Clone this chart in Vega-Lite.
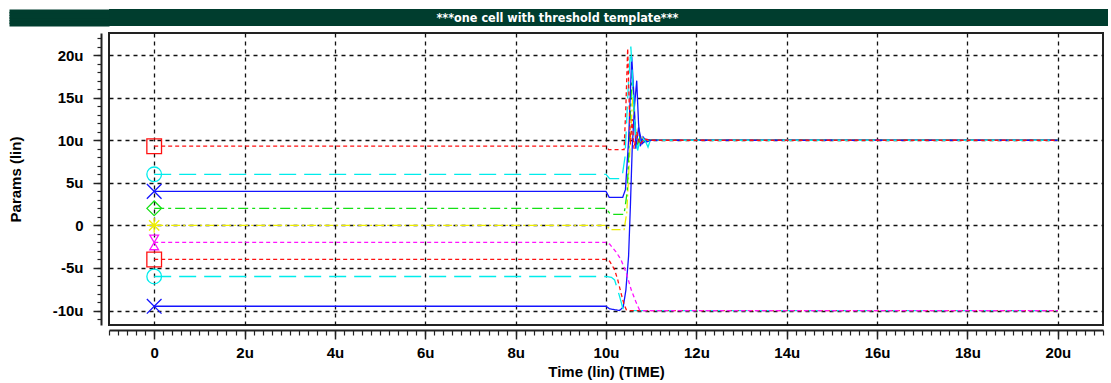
{
  "$schema": "https://vega.github.io/schema/vega-lite/v6.json",
  "background": "white",
  "padding": {"left": 7, "top": 8, "right": 3, "bottom": 0},
  "spacing": 5,
  "config": {"font": "Liberation Sans"},
  "datasets": {
    "traces": [
      {"trace":"s9","t":0,"v":-9.5},{"trace":"s9","t":10,"v":-9.5},{"trace":"s9","t":10.08,"v":-9.8},{"trace":"s9","t":10.3,"v":-10},{"trace":"s9","t":10.38,"v":-9.6},{"trace":"s9","t":10.44,"v":-7.6},{"trace":"s9","t":10.5,"v":-3.6},{"trace":"s9","t":10.54,"v":2.3},{"trace":"s9","t":10.58,"v":9},{"trace":"s9","t":10.63,"v":14},{"trace":"s9","t":10.68,"v":17},{"trace":"s9","t":10.72,"v":12},{"trace":"s9","t":10.76,"v":9.3},{"trace":"s9","t":10.82,"v":10.4},{"trace":"s9","t":10.9,"v":9.8},{"trace":"s9","t":11,"v":10},{"trace":"s9","t":20,"v":10},
      {"trace":"s8","t":0,"v":-6},{"trace":"s8","t":10,"v":-6},{"trace":"s8","t":10.12,"v":-6.1},{"trace":"s8","t":10.19,"v":-6.4},{"trace":"s8","t":10.26,"v":-7.6},{"trace":"s8","t":10.33,"v":-8.9},{"trace":"s8","t":10.37,"v":-9.7},{"trace":"s8","t":10.4,"v":-10},{"trace":"s8","t":20,"v":-10},
      {"trace":"s7","t":0,"v":-4},{"trace":"s7","t":10,"v":-4},{"trace":"s7","t":10.08,"v":-4.2},{"trace":"s7","t":10.19,"v":-5.2},{"trace":"s7","t":10.26,"v":-6.4},{"trace":"s7","t":10.33,"v":-7.9},{"trace":"s7","t":10.4,"v":-9.3},{"trace":"s7","t":10.45,"v":-9.9},{"trace":"s7","t":10.5,"v":-10},{"trace":"s7","t":20,"v":-10},
      {"trace":"s6","t":0,"v":-2},{"trace":"s6","t":10,"v":-2},{"trace":"s6","t":10.08,"v":-2.2},{"trace":"s6","t":10.22,"v":-3.1},{"trace":"s6","t":10.33,"v":-4},{"trace":"s6","t":10.45,"v":-5.6},{"trace":"s6","t":10.56,"v":-7.6},{"trace":"s6","t":10.67,"v":-9.1},{"trace":"s6","t":10.74,"v":-9.9},{"trace":"s6","t":10.8,"v":-10},{"trace":"s6","t":20,"v":-10},
      {"trace":"s5","t":0,"v":0},{"trace":"s5","t":10,"v":0},{"trace":"s5","t":10.1,"v":-0.5},{"trace":"s5","t":10.4,"v":-0.5},{"trace":"s5","t":10.46,"v":1.5},{"trace":"s5","t":10.53,"v":9},{"trace":"s5","t":10.59,"v":15},{"trace":"s5","t":10.64,"v":12},{"trace":"s5","t":10.7,"v":9.5},{"trace":"s5","t":10.8,"v":10.3},{"trace":"s5","t":10.92,"v":10},{"trace":"s5","t":20,"v":10},
      {"trace":"s4","t":0,"v":2},{"trace":"s4","t":10,"v":2},{"trace":"s4","t":10.1,"v":1.3},{"trace":"s4","t":10.4,"v":1.3},{"trace":"s4","t":10.47,"v":4},{"trace":"s4","t":10.53,"v":12},{"trace":"s4","t":10.58,"v":18},{"trace":"s4","t":10.63,"v":13},{"trace":"s4","t":10.68,"v":9.2},{"trace":"s4","t":10.76,"v":10.5},{"trace":"s4","t":10.86,"v":9.8},{"trace":"s4","t":10.95,"v":10},{"trace":"s4","t":20,"v":10},
      {"trace":"s3","t":0,"v":4},{"trace":"s3","t":10,"v":4},{"trace":"s3","t":10.07,"v":3.3},{"trace":"s3","t":10.37,"v":3.3},{"trace":"s3","t":10.43,"v":4.2},{"trace":"s3","t":10.5,"v":10},{"trace":"s3","t":10.57,"v":19.8},{"trace":"s3","t":10.62,"v":15},{"trace":"s3","t":10.66,"v":9},{"trace":"s3","t":10.72,"v":11.5},{"trace":"s3","t":10.8,"v":9.6},{"trace":"s3","t":10.9,"v":10.1},{"trace":"s3","t":11,"v":10},{"trace":"s3","t":20,"v":10},
      {"trace":"s2","t":0,"v":6},{"trace":"s2","t":10,"v":6},{"trace":"s2","t":10.08,"v":5.5},{"trace":"s2","t":10.35,"v":5.5},{"trace":"s2","t":10.42,"v":8},{"trace":"s2","t":10.49,"v":16},{"trace":"s2","t":10.55,"v":21},{"trace":"s2","t":10.6,"v":16},{"trace":"s2","t":10.65,"v":11},{"trace":"s2","t":10.7,"v":8.8},{"trace":"s2","t":10.78,"v":10.6},{"trace":"s2","t":10.88,"v":9.8},{"trace":"s2","t":10.93,"v":9.2},{"trace":"s2","t":10.98,"v":10},{"trace":"s2","t":20,"v":10},
      {"trace":"s1","t":0,"v":9.3},{"trace":"s1","t":10,"v":9.3},{"trace":"s1","t":10.06,"v":8.9},{"trace":"s1","t":10.4,"v":8.9},{"trace":"s1","t":10.44,"v":14},{"trace":"s1","t":10.48,"v":20.8},{"trace":"s1","t":10.51,"v":15},{"trace":"s1","t":10.54,"v":9.5},{"trace":"s1","t":10.58,"v":12.5},{"trace":"s1","t":10.62,"v":9},{"trace":"s1","t":10.68,"v":11},{"trace":"s1","t":10.75,"v":9.5},{"trace":"s1","t":10.85,"v":10.2},{"trace":"s1","t":10.95,"v":10},{"trace":"s1","t":20,"v":10}
    ]
  },
  "vconcat": [
    {
      "width": 999,
      "height": 17,
      "view": {"fill": "#003d2e", "stroke": null},
      "data": {"values": [{"label": "***one cell with threshold template***", "pos": 0}]},
      "mark": {"type": "text", "color": "white", "font": "'DejaVu Sans Condensed', 'DejaVu Sans'", "fontWeight": "bold", "fontSize": 12.5, "align": "center", "baseline": "middle", "dx": -51},
      "encoding": {
        "text": {"field": "label"},
        "y": {
          "field": "pos", "type": "quantitative",
          "scale": {"domain": [-1, 1], "nice": false},
          "axis": {"values": [-0.765, -0.459, -0.153, 0.153, 0.459, 0.765], "tickSize": 100, "tickWidth": 4, "tickColor": "#003d2e", "tickCap": "butt", "tickRound": false, "labels": false, "domain": false, "grid": false, "title": null, "offset": 0}
        }
      }
    },
    {
      "width": 994,
      "height": 292,
      "view": {"stroke": "#222", "strokeWidth": 2},
      "data": {"name": "traces"},
      "resolve": {"axis": {"x": "independent", "y": "independent"}},
      "layer": [
        {
          "mark": {"type": "line", "strokeWidth": 1.3},
          "encoding": {
            "x": {
              "field": "t", "type": "quantitative",
              "scale": {"domain": [-1, 21], "nice": false, "zero": false},
              "axis": {
                "orient": "bottom", "offset": 5, "title": "Time (lin) (TIME)",
                "values": [0, 2, 4, 6, 8, 10, 12, 14, 16, 18, 20],
                "labelExpr": "datum.value == 0 ? '0' : datum.value + 'u'",
                "grid": true, "gridColor": "#111", "gridOpacity": 1, "gridDash": [4, 4], "gridWidth": 1.3,
                "domain": true, "domainColor": "#222", "domainWidth": 2,
                "tickColor": "#222", "tickSize": 9, "tickWidth": 1.5,
                "labelFont": "Liberation Sans", "labelFontWeight": "bold", "labelFontSize": 15, "labelColor": "black", "labelPadding": 6,
                "titleFont": "Liberation Sans", "titleFontWeight": "bold", "titleFontSize": 15, "titleColor": "black", "titlePadding": 4
              }
            },
            "y": {
              "field": "v", "type": "quantitative",
              "scale": {"domain": [-11.7, 22.6], "nice": false, "zero": false},
              "axis": {
                "orient": "left", "offset": 8, "title": "Params (lin)",
                "values": [-10, -5, 0, 5, 10, 15, 20],
                "labelExpr": "datum.value == 0 ? '0' : datum.value + 'u'",
                "grid": true, "gridColor": "#111", "gridOpacity": 1, "gridDash": [4, 4], "gridWidth": 1.3,
                "domain": true, "domainColor": "#222", "domainWidth": 2,
                "tickColor": "#222", "tickSize": 8, "tickWidth": 1.5,
                "labelFont": "Liberation Sans", "labelFontWeight": "bold", "labelFontSize": 15, "labelColor": "black", "labelPadding": 10,
                "titleFont": "Liberation Sans", "titleFontWeight": "bold", "titleFontSize": 15, "titleColor": "black", "titlePadding": 29
              }
            },
            "detail": {"field": "trace"},
            "color": {
              "field": "trace", "type": "nominal", "legend": null,
              "scale": {"domain": ["s1","s2","s3","s4","s5","s6","s7","s8","s9"], "range": ["#ff1010","#00ecec","#1414ff","#14e014","#eeee00","#ff14ff","#ff1010","#00ecec","#1414ff"]}
            },
            "strokeDash": {
              "field": "trace", "type": "nominal", "legend": null,
              "scale": {"domain": ["s1","s2","s3","s4","s5","s6","s7","s8","s9"], "range": [[4,3],[17,8],[1,0],[10,4,3,4],[9,3,2,3],[4,3],[4,3],[17,8],[1,0]]}
            }
          }
        },
        {
          "transform": [{"filter": "datum.t == 0"}],
          "mark": {"type": "point", "filled": false, "strokeWidth": 1.3, "size": 215, "opacity": 1},
          "encoding": {
            "x": {
              "field": "t", "type": "quantitative",
              "axis": {
                "orient": "bottom", "offset": 5, "title": null, "labels": false, "grid": false, "domain": false,
                "tickColor": "#222", "tickSize": 5, "tickWidth": 1.2,
                "values": [-1,-0.8,-0.6,-0.4,-0.2,0,0.2,0.4,0.6,0.8,1,1.2,1.4,1.6,1.8,2,2.2,2.4,2.6,2.8,3,3.2,3.4,3.6,3.8,4,4.2,4.4,4.6,4.8,5,5.2,5.4,5.6,5.8,6,6.2,6.4,6.6,6.8,7,7.2,7.4,7.6,7.8,8,8.2,8.4,8.6,8.8,9,9.2,9.4,9.6,9.8,10,10.2,10.4,10.6,10.8,11,11.2,11.4,11.6,11.8,12,12.2,12.4,12.6,12.8,13,13.2,13.4,13.6,13.8,14,14.2,14.4,14.6,14.8,15,15.2,15.4,15.6,15.8,16,16.2,16.4,16.6,16.8,17,17.2,17.4,17.6,17.8,18,18.2,18.4,18.6,18.8,19,19.2,19.4,19.6,19.8,20,20.2,20.4,20.6,20.8,21]
              }
            },
            "y": {
              "field": "v", "type": "quantitative",
              "axis": {
                "orient": "left", "offset": 8, "title": null, "labels": false, "grid": false, "domain": false,
                "tickColor": "#222", "tickSize": 4, "tickWidth": 1.2,
                "values": [-11,-10,-9,-8,-7,-6,-5,-4,-3,-2,-1,0,1,2,3,4,5,6,7,8,9,10,11,12,13,14,15,16,17,18,19,20,21,22]
              }
            },
            "color": {"field": "trace", "type": "nominal", "legend": null},
            "shape": {
              "field": "trace", "type": "nominal", "legend": null,
              "scale": {"domain": ["s1","s2","s3","s4","s5","s6","s7","s8","s9"], "range": ["square","circle","M-1,-1L1,1M-1,1L1,-1","diamond","M-1,0L1,0M0,-1L0,1M-0.7,-0.7L0.7,0.7M-0.7,0.7L0.7,-0.7","M-0.6,-1L0.6,-1L-0.6,1L0.6,1Z","square","circle","M-1,-1L1,1M-1,1L1,-1"]}
            }
          }
        }
      ]
    }
  ]
}
